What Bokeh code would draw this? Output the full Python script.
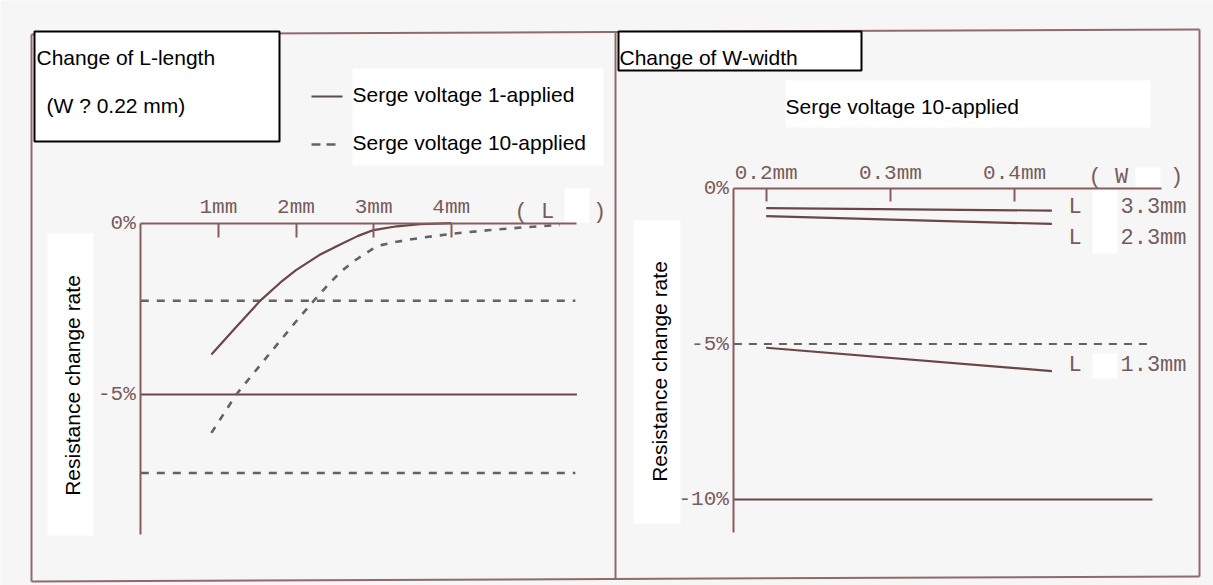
from math import pi
from bokeh.plotting import figure
from bokeh.models import Range1d, LinearAxis, FixedTicker, PrintfTickFormatter
from bokeh.core.properties import value
from bokeh.embed import file_html
from bokeh.resources import INLINE

# ---------------- data: left panel, change of L-length ----------------
L_SOLID_MM = [0.91, 1.2, 1.54, 1.8, 2.0, 2.3, 2.57, 2.8, 3.0, 3.3, 3.6, 4.0]
L_SOLID_RATE = [-3.83, -3.10, -2.26, -1.73, -1.37, -0.93, -0.62, -0.37, -0.20, -0.09, -0.03, 0.0]
L_DASH_MM = [0.91, 1.23, 1.5, 1.8, 2.0, 2.23, 2.4, 2.57, 2.75, 2.98, 3.1, 3.3, 3.6, 4.0, 4.5,
             5.0, 5.4]
L_DASH_RATE = [-6.12, -5.0, -4.25, -3.42, -2.87, -2.26, -1.83, -1.43, -1.10, -0.76, -0.64, -0.54,
               -0.43, -0.31, -0.20, -0.11, -0.05]
L_XTICKS = [1, 2, 3, 4]
L_YTICKS = [0, -5]
L_REF_SOLID = -5.0
L_REF_DASHED = [-2.26, -7.29]

# ---------------- data: right panel, change of W-width ----------------
W_MM = [0.2, 0.43]
W_L33 = [-0.63, -0.71]
W_L23 = [-0.89, -1.14]
W_L13 = [-5.12, -5.87]
W_XTICKS = [0.2, 0.3, 0.4]
W_YTICKS = [0, -5, -10]
W_REF_DASHED = -5.0
W_REF_SOLID = -10.0
W_LINE_NAMES = ["3.3mm", "2.3mm", "1.3mm"]

# ---------------- layout constants (pixels of the page) ----------------
FW, FH = 1213, 585
OFF = 0
# left panel axes
L_X0_PX, L_PX_PER_MM = 140.3, 77.6
L_Y0_PX, L_PX_PER_PCT = 222.7, 34.26
L_X_END, L_Y_END = 5.62, -9.09
# right panel axes
W_X02_PX, W_PX_PER_MM = 765.7, 1242.0
W_Y0_PX, W_PX_PER_PCT = 188.0, 31.1
W_AXIS_X, W_X_END, W_Y_END = 0.174, 0.518, -11.06

AXIS_C = "#875c5c"
CURVE_C = "#6a4646"
DASH_C = "#666262"
TICKLBL_C = "#775c5c"
FRAME_C = "#8f6b6b"
BG = "#f7f6f6"
SANS = "Liberation Sans"
MONO = "Liberation Mono"

lx0 = -(L_X0_PX - OFF) / L_PX_PER_MM
ly1 = (L_Y0_PX - OFF) / L_PX_PER_PCT
wx0 = 0.2 - (W_X02_PX - OFF) / W_PX_PER_MM
wy1 = (W_Y0_PX - OFF) / W_PX_PER_PCT

p = figure(width=FW, height=FH, output_backend="svg", toolbar_location=None,
           x_axis_location=None, y_axis_location=None,
           x_range=Range1d(lx0, lx0 + FW / L_PX_PER_MM),
           y_range=Range1d(ly1 - FH / L_PX_PER_PCT, ly1),
           min_border=0, min_border_left=0, min_border_right=0,
           min_border_top=0, min_border_bottom=0)
p.extra_x_ranges = {"rx": Range1d(wx0, wx0 + FW / W_PX_PER_MM), "px": Range1d(OFF, OFF + FW)}
p.extra_y_ranges = {"ry": Range1d(wy1 - FH / W_PX_PER_PCT, wy1), "px": Range1d(OFF + FH, OFF)}
p.background_fill_color = BG
p.border_fill_color = BG
p.outline_line_color = None
p.xgrid.visible = False
p.ygrid.visible = False

PX = dict(x_range_name="px", y_range_name="px")
RW = dict(x_range_name="rx", y_range_name="ry")

# white masks (blank patches of the scan)
masks = dict(left=[352, 47, 564, 785, 633, 1092, 1092, 1135],
             right=[603, 93, 589, 1150, 680, 1117, 1117, 1160],
             top=[68, 233, 188, 80, 220, 189, 353, 167],
             bottom=[165, 535, 222, 127, 523, 253, 378, 188])
p.quad(**masks, fill_color="white", line_color=None, **PX)

# outer panel frames
p.segment(x0=[31, 31, 31, 615, 1199], y0=[34, 581, 34, 32, 29],
          x1=[1199, 1199, 31, 615, 1199], y1=[29, 576, 581, 578, 576],
          line_color=FRAME_C, line_width=2, **PX)

# title boxes
p.quad(left=[34, 618], right=[279, 861], top=[31, 31], bottom=[141, 70],
       fill_color="white", line_color="black", line_width=2, **PX)

txt = dict(text_font=value(SANS), text_font_size="21px", text_color="black",
           text_baseline="middle", text_align="left")
p.text(x=[36, 46, 352, 352, 619, 785], y=[57, 105, 94, 142, 57, 106],
       text=["Change of L-length", "(W ? 0.22 mm)", "Serge voltage 1-applied",
             "Serge voltage 10-applied", "Change of W-width", "Serge voltage 10-applied"],
       **txt, **PX)
p.text(x=[72, 659], y=[385, 371], text=["Resistance change rate"] * 2, angle=pi / 2,
       text_font=value(SANS), text_font_size="21px", text_color="black",
       text_baseline="middle", text_align="center", **PX)

# legend samples
p.segment(x0=[311], y0=[96], x1=[342], y1=[96], line_color="#5a4a4a", line_width=2, **PX)
p.segment(x0=[311], y0=[144], x1=[337], y1=[144], line_color=DASH_C, line_width=2.5,
          line_dash="9 6", **PX)

# ---------- left panel data ----------
p.line([0, L_X_END], [L_REF_SOLID] * 2, line_color=CURVE_C, line_width=2)
for r in L_REF_DASHED:
    p.line([0, 5.6], [r, r], line_color=DASH_C, line_width=2.5, line_dash="8 8")
p.line(L_SOLID_MM, L_SOLID_RATE, line_color=CURVE_C, line_width=2.2)
p.line(L_DASH_MM, L_DASH_RATE, line_color=DASH_C, line_width=2.6, line_dash="7 8")

# ---------- right panel data ----------
p.line([W_AXIS_X, 0.512], [W_REF_DASHED] * 2, line_color=DASH_C, line_width=2.2,
       line_dash="8 7", **RW)
p.line([W_AXIS_X, 0.511], [W_REF_SOLID] * 2, line_color=CURVE_C, line_width=2, **RW)
for ys in (W_L33, W_L23, W_L13):
    p.line(W_MM, ys, line_color=CURVE_C, line_width=2.2, **RW)

mono = dict(text_font=value(MONO), text_font_size="22px", text_color=TICKLBL_C,
            text_baseline="middle")
p.text(x=[1068] * 3, y=[207, 238, 365], text=["L"] * 3, text_align="left", **mono, **PX)
p.text(x=[1120] * 3, y=[207, 238, 365], text=W_LINE_NAMES, text_align="left", **mono, **PX)
p.text(x=[514, 1088], y=[212, 177], text=["( L", "( W"], text_align="left", **mono, **PX)
p.text(x=[599, 1176], y=[212, 177], text=[")", ")"], text_align="center", **mono, **PX)


def style(ax, tick_in, standoff):
    ax.axis_line_color = AXIS_C
    ax.axis_line_width = 2
    ax.major_tick_line_color = AXIS_C
    ax.major_tick_line_width = 2
    ax.major_tick_in = tick_in
    ax.major_tick_out = 0
    ax.minor_tick_in = 0
    ax.minor_tick_out = 0
    ax.major_label_standoff = standoff
    ax.major_label_text_font = MONO
    ax.major_label_text_font_size = "21px"
    ax.major_label_text_color = TICKLBL_C


# left panel axes
lxa = LinearAxis(fixed_location=0, bounds=(0, L_X_END), ticker=FixedTicker(ticks=L_XTICKS),
                 formatter=PrintfTickFormatter(format="%dmm"))
style(lxa, 14, 4)
p.add_layout(lxa, "above")
lya = LinearAxis(fixed_location=0, bounds=(L_Y_END, 0), ticker=FixedTicker(ticks=L_YTICKS),
                 formatter=PrintfTickFormatter(format="%d%%"))
style(lya, 0, 5)
p.add_layout(lya, "left")

# right panel axes
wxa = LinearAxis(x_range_name="rx", y_range_name="ry", fixed_location=0,
                 bounds=(W_AXIS_X, W_X_END), ticker=FixedTicker(ticks=W_XTICKS),
                 formatter=PrintfTickFormatter(format="%.1fmm"))
style(wxa, 13, 4)
p.add_layout(wxa, "above")
wya = LinearAxis(x_range_name="rx", y_range_name="ry", fixed_location=W_AXIS_X,
                 bounds=(W_Y_END, 0), ticker=FixedTicker(ticks=W_YTICKS),
                 formatter=PrintfTickFormatter(format="%d%%"))
style(wya, 0, 5)
p.add_layout(wya, "left")

open("out.html", "w").write(file_html(p, INLINE))
